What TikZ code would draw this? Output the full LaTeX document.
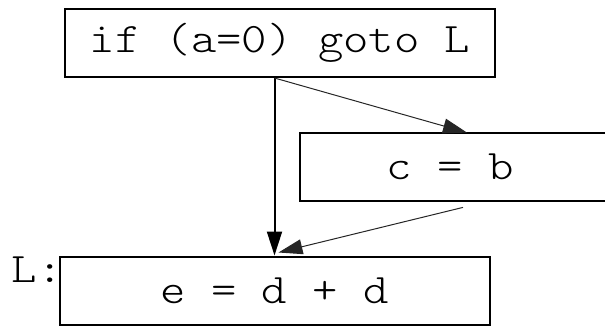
\documentclass[tikz,border=0pt]{standalone}
\usepackage{fontspec}
\setmonofont{lmmonolt10-regular.otf}[FakeStretch=1.15]
\usetikzlibrary{arrows.meta, positioning, calc}

\begin{document}
\begin{tikzpicture}[
  x=0.5pt, y=-0.5pt,
  code/.style={font=\ttfamily\fontsize{21}{24}\selectfont, inner sep=0pt},
  blk/.style={code, draw, line width=1pt, minimum width=215pt, minimum height=34pt},
  arr/.style={-{Triangle[length=12pt,width=7.5pt]}, line width=1pt},
  slim/.style={arr, line width=0.5pt, draw=black!85}
]
\useasboundingbox (0,0) rectangle (605,326);

\node[blk]                                     (cond) at (280,43)      {if (a=0) goto L};
\node[code, minimum width=150pt, minimum height=34pt] (copy) at (450,167) {c = b};
\node[blk]                                     (join) at (274.5,290.5) {e = d + d};
\node[code]                                    (lab)  at (37,269.5)    {L:};

% the copy block runs off the right edge
\draw[line width=1pt] (copy.north west) rectangle ($(copy.south east)+(40,0)$);

\draw[arr]  (cond.south -| join.north) -- (join.north);
\draw[slim] (cond.south -| join.north) -- ($(copy.north)+(17,0)$);
\draw[slim] ($(copy.south)+(13,6)$)    -- ($(join.north)+(4,-3)$);
\end{tikzpicture}
\end{document}
